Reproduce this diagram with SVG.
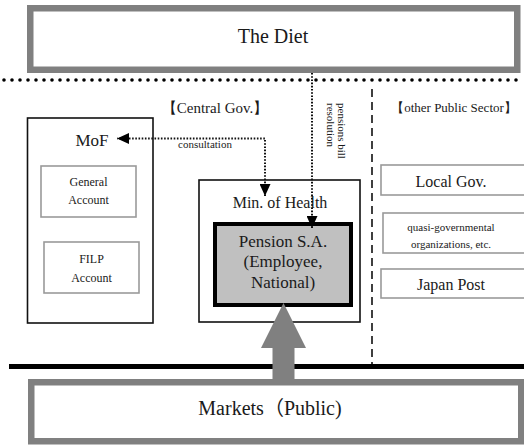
<svg xmlns="http://www.w3.org/2000/svg" width="524" height="445" viewBox="0 0 524 445">
  <style>
    text { fill: #1a1a1a; text-anchor: middle; font-family: "Liberation Serif", "Times New Roman", Times, "DejaVu Serif", serif; }
    .frame { fill: #ffffff; stroke: #808080; stroke-width: 6.5; }
    .box { fill: #ffffff; stroke: #111111; stroke-width: 1.6; }
    .sub { fill: #ffffff; stroke: #9a9a9a; stroke-width: 1.6; }
    .dots { fill: none; stroke: #111111; stroke-width: 2; stroke-dasharray: 1.6 1.6; }
    .cjk { font-family: "Noto Sans CJK JP", sans-serif; }
  </style>
  <defs>
    <marker id="tri" viewBox="0 0 12 11" refX="12" refY="5.5" markerWidth="12" markerHeight="11" markerUnits="userSpaceOnUse" orient="auto-start-reverse">
      <path d="M0,0 L12,5.5 L0,11 z" fill="#000000"/>
    </marker>
  </defs>

  <rect width="524" height="445" fill="#ffffff"/>

  <!-- parliament -->
  <g id="diet">
    <rect class="frame" x="30.25" y="8.25" width="487" height="61.5"/>
    <text x="273" y="43" font-size="20" font-family="Liberation Serif">The Diet</text>
  </g>

  <!-- separator between the Diet and government -->
  <line x1="4" y1="80" x2="521" y2="80" stroke="#000" stroke-width="3.6" stroke-linecap="round" stroke-dasharray="0 8"/>

  <!-- boundary between central government and the rest of the public sector -->
  <line x1="372" y1="89" x2="372" y2="365" stroke="#111" stroke-width="1.6" stroke-dasharray="8 5"/>

  <!-- boundary between the public sector and markets -->
  <line x1="9" y1="366.5" x2="524" y2="366.5" stroke="#000" stroke-width="5"/>

  <text x="215" y="113" font-size="15">【Central Gov.】</text>
  <text x="454" y="112" font-size="13">【other Public Sector】</text>

  <g id="mof">
    <rect class="box" x="27.5" y="118" width="125.5" height="205"/>
    <text x="92" y="146" font-size="17">MoF</text>
  </g>
  <g id="general-account">
    <rect class="sub" x="41" y="166" width="95" height="51"/>
    <text x="88.5" y="186" font-size="12">General</text>
    <text x="88.5" y="204" font-size="12">Account</text>
  </g>
  <g id="filp-account">
    <rect class="sub" x="44" y="242" width="95" height="51"/>
    <text x="91.5" y="263" font-size="12">FILP</text>
    <text x="91.5" y="282" font-size="12">Account</text>
  </g>

  <g id="min-health">
    <rect class="box" x="199" y="180" width="161" height="142"/>
    <text x="280" y="208" font-size="16">Min. of Health</text>
  </g>
  <g id="pension-sa">
    <rect x="215" y="224" width="136" height="81" fill="#c0c0c0" stroke="#000" stroke-width="4"/>
    <text x="283" y="247" font-size="17">Pension S.A.</text>
    <text x="283" y="267" font-size="17">(Employee,</text>
    <text x="283" y="288" font-size="17">National)</text>
  </g>

  <g id="local-gov">
    <rect class="sub" x="381" y="165" width="150" height="30"/>
    <text x="451" y="187" font-size="16">Local Gov.</text>
  </g>
  <g id="quasi-gov">
    <rect class="sub" x="383" y="213" width="150" height="40"/>
    <text x="451" y="231" font-size="11">quasi-governmental</text>
    <text x="451" y="248" font-size="11">organizations, etc.</text>
  </g>
  <g id="japan-post">
    <rect class="sub" x="381" y="269" width="150" height="29"/>
    <text x="451" y="290" font-size="16">Japan Post</text>
  </g>

  <g id="markets">
    <rect class="frame" x="31.25" y="382.25" width="490" height="59"/>
    <text x="270" y="415" font-size="20">Markets<tspan class="cjk">（</tspan>Public)</text>
  </g>

  <g id="connectors">
    <path class="dots" d="M265,196 V138.5 H117" marker-start="url(#tri)" marker-end="url(#tri)"/>
    <text x="205" y="148" font-size="11">consultation</text>
    <path class="dots" d="M312,73 V228" marker-end="url(#tri)"/>
    <text transform="translate(338,103) rotate(90)" font-size="11" style="text-anchor:start">pensions bill</text>
    <text transform="translate(327,103) rotate(90)" font-size="11" style="text-anchor:start">resolution</text>
    <polygon points="272.5,382 272.5,348 261,348 283.5,303 306,348 294.5,348 294.5,382" fill="#808080"/>
  </g>
</svg>
